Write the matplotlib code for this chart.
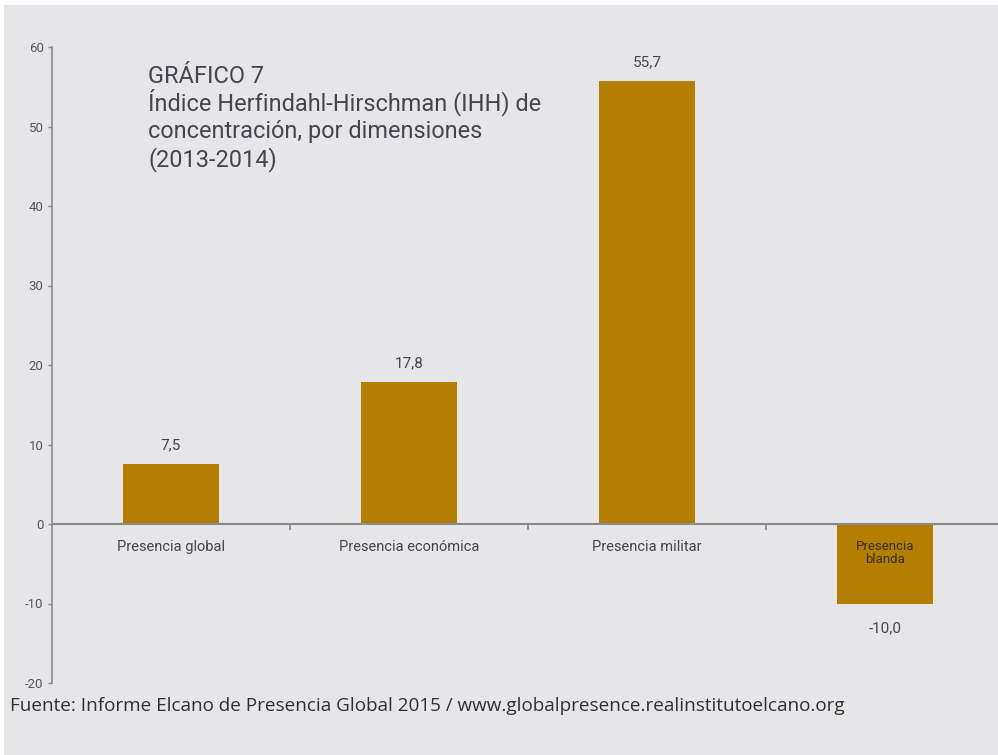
import numpy as np
import matplotlib.pyplot as plt
from matplotlib.patches import Rectangle

categorias = ["Presencia global", "Presencia económica", "Presencia militar", "Presencia\nblanda"]
valores = [7.5, 17.8, 55.7, -10.0]
yticks = [-20, -10, 0, 10, 20, 30, 40, 50, 60]

titulo = ["GRÁFICO 7",
          "Índice Herfindahl-Hirschman (IHH) de",
          "concentración, por dimensiones",
          "(2013-2014)"]
fuente = "Fuente: Informe Elcano de Presencia Global 2015 / www.globalpresence.realinstitutoelcano.org"

fondo = "#E6E6E8"
color_barra = "#B47E00"
gris = "#8A8A8A"
texto = "#45454F"

W, H = 998, 755
fig = plt.figure(figsize=(W / 100, H / 100), dpi=100)
fig.patch.set_facecolor("white")
fig.patches.append(Rectangle((4 / W, 0), 1, 750 / H, transform=fig.transFigure,
                             facecolor=fondo, edgecolor="none", zorder=-1))

ax = fig.add_axes([52 / W, (H - 683) / H, (1004 - 52) / W, (683 - 47) / H])
ax.set_facecolor("none")

x = np.arange(len(categorias))
ax.bar(x, valores, width=0.4, color=color_barra, zorder=2)

ax.set_xlim(-0.5, len(categorias) - 0.5)
ax.set_ylim(-20, 60)
ax.set_yticks(yticks)
ax.set_yticklabels([str(v) for v in yticks], family="Roboto", fontsize=9.5, color="#55555F")
ax.tick_params(axis="y", length=3, width=1, color=gris, pad=3)
ax.set_xticks([])

for s in ["top", "right", "bottom"]:
    ax.spines[s].set_visible(False)
ax.spines["left"].set_color(gris)
ax.spines["left"].set_linewidth(1.2)

ax.axhline(0, color=gris, lw=1.5, zorder=3)
limites = x[:-1] + 0.5
ax.vlines(limites, -0.7, 0, color=gris, lw=1.2)

for xi, v, cat in zip(x, valores, categorias):
    etiqueta = f"{v:.1f}".replace(".", ",")
    if v >= 0:
        ax.text(xi, v + 1.5, etiqueta, ha="center", va="bottom", family="Roboto",
                fontsize=11, color=texto)
        ax.text(xi, -2.0, cat, ha="center", va="top", family="Roboto",
                fontsize=10.5, color=texto)
    else:
        ax.text(xi, v - 2.2, etiqueta, ha="center", va="top", family="Roboto",
                fontsize=11, color=texto)
        ax.text(xi, -2.0, cat, ha="center", va="top", family="Roboto",
                fontsize=9.5, color="#3A3020", linespacing=1.0, zorder=4)

# titulo: una linea por texto para fijar el interlineado
for i, linea in enumerate(titulo):
    fig.text(148 / W, 1 - (83 + 27.7 * i) / H, linea, ha="left", va="baseline",
             family="Roboto", fontsize=16.9, color=texto)

fig.text(10 / W, 1 - 706 / H, fuente, ha="left", va="center",
         family="Open Sans", fontsize=13.6, color="#303030")

fig.savefig("out.png", dpi=100)
